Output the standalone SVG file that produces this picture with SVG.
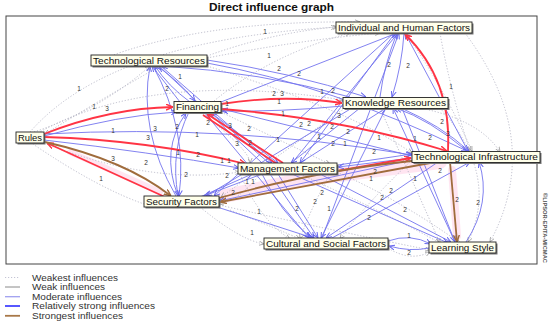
<svg xmlns="http://www.w3.org/2000/svg" width="550" height="321" viewBox="0 0 550 321">
<style>
.w{fill:none;stroke:#b4b4c4;stroke-width:0.9;stroke-dasharray:1.2 1.8}
.m{fill:none;stroke:#7474ee;stroke-width:0.9}
.r{fill:none;stroke:#ff3444;stroke-width:1.8}
.b{fill:none;stroke:#a06c3c;stroke-width:1.8}
.pk{fill:none;stroke:#ffd0e6;stroke-linecap:round;opacity:0.55}
.lb{font-family:"Liberation Sans",Arial,sans-serif;font-size:6.5px;fill:#333;text-anchor:middle}
.nt{font-family:"Liberation Sans",Arial,sans-serif;font-size:9px;fill:#111}
.bx{fill:#ffffea;stroke:#222;stroke-width:0.9}
.sh{fill:#777}
.lg{font-family:"Liberation Sans",Arial,sans-serif;font-size:9px;fill:#333}
</style>
<defs>
<marker id="mb" viewBox="0 0 8 8" refX="8" refY="4" markerWidth="6" markerHeight="6" markerUnits="userSpaceOnUse" orient="auto"><path d="M0,0.6 L8,4 L0,7.4" fill="none" stroke="#6464ee" stroke-width="1.3"/></marker>
<marker id="mw" viewBox="0 0 8 8" refX="8" refY="4" markerWidth="5" markerHeight="5" markerUnits="userSpaceOnUse" orient="auto"><path d="M0,0.6 L8,4 L0,7.4" fill="none" stroke="#999" stroke-width="1.2"/></marker>
<marker id="mr" viewBox="0 0 8 8" refX="8" refY="4" markerWidth="7" markerHeight="7" markerUnits="userSpaceOnUse" orient="auto"><path d="M0,0.6 L8,4 L0,7.4" fill="none" stroke="#ff3444" stroke-width="1.6"/></marker>
<marker id="mbr" viewBox="0 0 8 8" refX="8" refY="4" markerWidth="7" markerHeight="7" markerUnits="userSpaceOnUse" orient="auto"><path d="M0,0.6 L8,4 L0,7.4" fill="none" stroke="#a06c3c" stroke-width="1.6"/></marker>
</defs>
<rect width="550" height="321" fill="#fff"/>
<text x="271.5" y="11" font-family="Liberation Sans,Arial,sans-serif" font-size="11.5" font-weight="bold" text-anchor="middle" textLength="125" lengthAdjust="spacingAndGlyphs" fill="#111">Direct influence graph</text>
<rect x="6" y="16" width="531" height="248" fill="#fff" stroke="#444" stroke-width="1"/>
<text x="0" y="0" transform="translate(543,193) rotate(90)" font-family="Liberation Sans,Arial,sans-serif" font-size="5.5" font-weight="bold" fill="#555" textLength="70" lengthAdjust="spacingAndGlyphs">©LIPSOR-EPITA-MICMAC</text>

<g id="connectors">
<g id="pink">
<path class="pk" d="M225,196 L300,180 L440,162" stroke-width="14"/>
<path class="pk" d="M452,170 L457,236" stroke-width="8"/>
<path class="pk" d="M70,152 L160,192" stroke-width="6"/>
</g>
<g id="weakest" marker-end="url(#mw)">
<path class="w" d="M30,132 Q110,40 338,27"/>
<path class="w" d="M34,132 Q100,110 150,66"/>
<path class="w" d="M38,133 Q150,70 343,100"/>
<path class="w" d="M207,56 Q270,33 336,27"/>
<path class="w" d="M214,101 Q270,55 350,33"/>
<path class="w" d="M440,33 Q450,90 470,151"/>
<path class="w" d="M465,33 Q545,140 490,242"/>
<path class="w" d="M440,108 Q500,175 468,242"/>
<path class="w" d="M30,142 Q100,190 150,206"/>
<path class="w" d="M200,207 Q240,240 264,244"/>
<path class="w" d="M219,205 Q340,232 430,250"/>
<path class="w" d="M300,174 Q390,215 440,243"/>
<path class="w" d="M207,66 Q350,110 412,153"/>
<path class="w" d="M200,112 Q250,150 250,163"/>
<path class="w" d="M221,112 Q300,150 330,164"/>
<path class="w" d="M44,143 Q150,185 240,172"/>
<path class="w" d="M405,33 Q440,80 472,151"/>
<path class="w" d="M388,248 Q410,262 430,252"/>
<path class="w" d="M160,66 Q100,100 45,134"/>
<path class="w" d="M345,108 L221,197"/>
<path class="w" d="M380,108 L440,243"/>
<path class="w" d="M240,174 Q260,220 290,239"/>
<path class="w" d="M337,172 Q400,200 460,243"/>
<path class="w" d="M230,210 Q280,230 300,239"/>
<path class="w" d="M412,160 Q360,210 340,239"/>
<path class="w" d="M100,60 Q200,20 360,22"/>
<path class="w" d="M207,58 Q300,40 380,33"/>
<path class="w" d="M260,174 Q240,200 219,204"/>
<path class="w" d="M330,174 Q310,210 300,239"/>
<path class="w" d="M420,108 Q480,120 500,152"/>
</g>
<g id="moderate" marker-end="url(#mb)">
<path class="m" d="M180,102 L152,66"/>
<path class="m" d="M190,102 Q168,86 155,66"/>
<path class="m" d="M157,66 Q180,82 195,101"/>
<path class="m" d="M176,196 Q138,130 150,66"/>
<path class="m" d="M153,66 Q188,130 179,196"/>
<path class="m" d="M262,163 L159,66"/>
<path class="m" d="M207,60 Q290,72 366,97"/>
<path class="m" d="M350,97 Q260,72 162,66"/>
<path class="m" d="M207,63 Q330,85 467,151"/>
<path class="m" d="M221,102 L397,33"/>
<path class="m" d="M292,163 L398,33"/>
<path class="m" d="M380,97 Q384,65 397,33"/>
<path class="m" d="M404,33 Q402,65 392,97"/>
<path class="m" d="M468,151 L405,33"/>
<path class="m" d="M322,238 L399,33"/>
<path class="m" d="M394,33 L214,196"/>
<path class="m" d="M300,163 L386,108"/>
<path class="m" d="M467,151 Q430,120 396,108"/>
<path class="m" d="M401,108 Q440,125 469,151"/>
<path class="m" d="M386,108 L321,238"/>
<path class="m" d="M455,242 L393,108"/>
<path class="m" d="M44,134 Q230,124 412,155"/>
<path class="m" d="M44,136 Q120,115 177,112"/>
<path class="m" d="M44,140 Q150,152 239,168"/>
<path class="m" d="M262,174 L204,196"/>
<path class="m" d="M412,160 L219,201"/>
<path class="m" d="M270,174 L314,238"/>
<path class="m" d="M278,174 L318,238"/>
<path class="m" d="M262,174 Q280,212 311,238"/>
<path class="m" d="M214,206 L313,238"/>
<path class="m" d="M320,174 L451,242"/>
<path class="m" d="M292,174 L448,243"/>
<path class="m" d="M438,162 L326,238"/>
<path class="m" d="M402,108 L455,242"/>
<path class="m" d="M466,242 Q492,202 479,162"/>
<path class="m" d="M429,248 Q410,252 389,246"/>
<path class="m" d="M388,241 Q410,233 431,244"/>
<path class="m" d="M332,238 L470,162"/>
<path class="m" d="M210,112 L278,163"/>
<path class="m" d="M204,112 L309,238"/>
<path class="m" d="M189,112 Q170,150 178,196"/>
<path class="m" d="M269,163 L211,113"/>
<path class="m" d="M412,156 L222,109"/>
<path class="m" d="M412,158 L338,167"/>
<path class="m" d="M338,165 L412,154"/>
<path class="m" d="M360,108 L291,163"/>
<path class="m" d="M343,106 Q280,112 222,111"/>
<path class="m" d="M161,66 L272,163"/>
<path class="m" d="M352,108 L206,196"/>
<path class="m" d="M200,197 L252,174"/>
<path class="m" d="M178,196 Q160,150 186,113"/>
<path class="m" d="M395,33 L300,163"/>
</g>
<g id="strong">
<path class="r" marker-end="url(#mr)" d="M44,134 Q110,108 173,107"/>
<path class="r" marker-end="url(#mr)" d="M44,137 Q150,140 246,164"/>
<path class="r" marker-end="url(#mr)" d="M165,197 L47,143"/>
<path class="r" marker-end="url(#mr)" d="M221,104 Q285,94 342,103"/>
<path class="r" marker-end="url(#mr)" d="M221,109 Q340,118 447,151"/>
<path class="r" marker-end="url(#mr)" d="M283,163 L207,114"/>
<path class="r" d="M277,164 L203,115"/>
<path class="r" marker-end="url(#mr)" d="M448,151 Q452,80 405,34"/>
<path class="r" marker-end="url(#mr)" d="M337,171 L411,158"/>
<path class="b" marker-end="url(#mbr)" d="M45,142 Q125,160 171,196"/>
<path class="b" marker-end="url(#mbr)" d="M430,163 L220,202"/>
<path class="b" d="M219,198 Q320,170 412,161"/>
<path class="b" marker-end="url(#mbr)" d="M450,162 L457,242"/>
</g>
</g>

<g id="labels">
<text class="lb" x="265" y="34">1</text>
<text class="lb" x="269" y="58">1</text>
<text class="lb" x="79" y="91">1</text>
<text class="lb" x="94" y="109">1</text>
<text class="lb" x="107" y="111">3</text>
<text class="lb" x="167" y="91">2</text>
<text class="lb" x="180" y="79">1</text>
<text class="lb" x="279" y="71">2</text>
<text class="lb" x="299" y="76">2</text>
<text class="lb" x="389" y="67">2</text>
<text class="lb" x="408" y="68">2</text>
<text class="lb" x="451" y="89">1</text>
<text class="lb" x="274" y="96">2</text>
<text class="lb" x="282" y="96">3</text>
<text class="lb" x="322" y="94">1</text>
<text class="lb" x="333" y="93">2</text>
<text class="lb" x="279" y="104">1</text>
<text class="lb" x="227" y="106">1</text>
<text class="lb" x="283" y="116">1</text>
<text class="lb" x="339" y="118">3</text>
<text class="lb" x="208" y="125">2</text>
<text class="lb" x="177" y="129">2</text>
<text class="lb" x="230" y="128">3</text>
<text class="lb" x="249" y="131">2</text>
<text class="lb" x="301" y="127">2</text>
<text class="lb" x="309" y="126">2</text>
<text class="lb" x="332" y="129">2</text>
<text class="lb" x="348" y="134">2</text>
<text class="lb" x="442" y="124">2</text>
<text class="lb" x="448" y="136">3</text>
<text class="lb" x="430" y="140">2</text>
<text class="lb" x="415" y="141">1</text>
<text class="lb" x="379" y="140">1</text>
<text class="lb" x="113" y="133">1</text>
<text class="lb" x="155" y="131">3</text>
<text class="lb" x="148" y="140">3</text>
<text class="lb" x="197" y="137">1</text>
<text class="lb" x="237" y="146">3</text>
<text class="lb" x="250" y="145">2</text>
<text class="lb" x="278" y="142">1</text>
<text class="lb" x="319" y="139">1</text>
<text class="lb" x="333" y="146">2</text>
<text class="lb" x="345" y="146">1</text>
<text class="lb" x="374" y="154">2</text>
<text class="lb" x="178" y="155">1</text>
<text class="lb" x="198" y="157">2</text>
<text class="lb" x="113" y="161">3</text>
<text class="lb" x="146" y="165">2</text>
<text class="lb" x="101" y="181">1</text>
<text class="lb" x="222" y="163">1</text>
<text class="lb" x="229" y="163">1</text>
<text class="lb" x="186" y="177">2</text>
<text class="lb" x="227" y="178">2</text>
<text class="lb" x="247" y="184">1</text>
<text class="lb" x="253" y="184">1</text>
<text class="lb" x="233" y="195">2</text>
<text class="lb" x="259" y="214">1</text>
<text class="lb" x="252" y="235">1</text>
<text class="lb" x="375" y="174">2</text>
<text class="lb" x="371" y="181">1</text>
<text class="lb" x="440" y="173">2</text>
<text class="lb" x="415" y="181">1</text>
<text class="lb" x="322" y="195">2</text>
<text class="lb" x="391" y="193">2</text>
<text class="lb" x="382" y="200">2</text>
<text class="lb" x="315" y="204">2</text>
<text class="lb" x="297" y="211">2</text>
<text class="lb" x="329" y="211">1</text>
<text class="lb" x="369" y="220">2</text>
<text class="lb" x="405" y="212">2</text>
<text class="lb" x="457" y="202">2</text>
<text class="lb" x="478" y="205">2</text>
<text class="lb" x="409" y="238">1</text>
<text class="lb" x="409" y="255">2</text>
</g>

<g id="node-technological-resources"><rect class="sh" x="92.5" y="56.5" width="116" height="11"/><rect class="bx" x="91" y="55" width="116" height="11"/><text class="nt" x="93" y="63.5" textLength="112" lengthAdjust="spacingAndGlyphs">Technological Resources</text></g>
<g id="node-individual-human"><rect class="sh" x="337.5" y="23.5" width="136" height="11"/><rect class="bx" x="336" y="22" width="136" height="11"/><text class="nt" x="338" y="30.5" textLength="132" lengthAdjust="spacingAndGlyphs">Individual and Human Factors</text></g>
<g id="node-financing"><rect class="sh" x="175.5" y="103" width="47" height="11"/><rect class="bx" x="174" y="101.5" width="47" height="11"/><text class="nt" x="176" y="110" textLength="43" lengthAdjust="spacingAndGlyphs">Financing</text></g>
<g id="node-knowledge-resources"><rect class="sh" x="344.5" y="99" width="105" height="11"/><rect class="bx" x="343" y="97.5" width="105" height="11"/><text class="nt" x="345" y="106" textLength="101" lengthAdjust="spacingAndGlyphs">Knowledge Resources</text></g>
<g id="node-rules"><rect class="sh" x="17.5" y="133.5" width="28" height="11"/><rect class="bx" x="16" y="132" width="28" height="11"/><text class="nt" x="18" y="140.5" textLength="24" lengthAdjust="spacingAndGlyphs">Rules</text></g>
<g id="node-management-factors"><rect class="sh" x="239.5" y="164.5" width="99" height="11"/><rect class="bx" x="238" y="163" width="99" height="11"/><text class="nt" x="240" y="171.5" textLength="95" lengthAdjust="spacingAndGlyphs">Management Factors</text></g>
<g id="node-technological-infrastructure"><rect class="sh" x="413.5" y="153" width="128" height="11"/><rect class="bx" x="412" y="151.5" width="128" height="11"/><text class="nt" x="414" y="160" textLength="124" lengthAdjust="spacingAndGlyphs">Technological Infrastructure</text></g>
<g id="node-security-factors"><rect class="sh" x="145.5" y="197.5" width="75" height="11"/><rect class="bx" x="144" y="196" width="75" height="11"/><text class="nt" x="146" y="204.5" textLength="71" lengthAdjust="spacingAndGlyphs">Security Factors</text></g>
<g id="node-cultural-social"><rect class="sh" x="265.5" y="239.5" width="124" height="11"/><rect class="bx" x="264" y="238" width="124" height="11"/><text class="nt" x="266" y="246.5" textLength="120" lengthAdjust="spacingAndGlyphs">Cultural and Social Factors</text></g>
<g id="node-learning-style"><rect class="sh" x="430.5" y="243.5" width="67" height="11"/><rect class="bx" x="429" y="242" width="67" height="11"/><text class="nt" x="431" y="250.5" textLength="63" lengthAdjust="spacingAndGlyphs">Learning Style</text></g>

<g id="legend">
<line x1="5" y1="277.5" x2="20" y2="277.5" stroke="#c4c4d4" stroke-width="1" stroke-dasharray="1.2 1.8"/>
<line x1="5" y1="287" x2="20" y2="287" stroke="#8a8a8a" stroke-width="1"/>
<line x1="5" y1="296.7" x2="20" y2="296.7" stroke="#a0a0f0" stroke-width="1.3"/>
<line x1="5" y1="306" x2="20" y2="306" stroke="#2c2cff" stroke-width="1.6"/>
<line x1="5" y1="315.8" x2="20" y2="315.8" stroke="#a87848" stroke-width="1.8"/>
<text class="lg" x="32" y="280.5" textLength="86" lengthAdjust="spacingAndGlyphs">Weakest influences</text>
<text class="lg" x="32" y="290" textLength="73" lengthAdjust="spacingAndGlyphs">Weak influences</text>
<text class="lg" x="32" y="299.7" textLength="90" lengthAdjust="spacingAndGlyphs">Moderate influences</text>
<text class="lg" x="32" y="309" textLength="123" lengthAdjust="spacingAndGlyphs">Relatively strong influences</text>
<text class="lg" x="32" y="318.8" textLength="91" lengthAdjust="spacingAndGlyphs">Strongest influences</text>
</g>
</svg>
